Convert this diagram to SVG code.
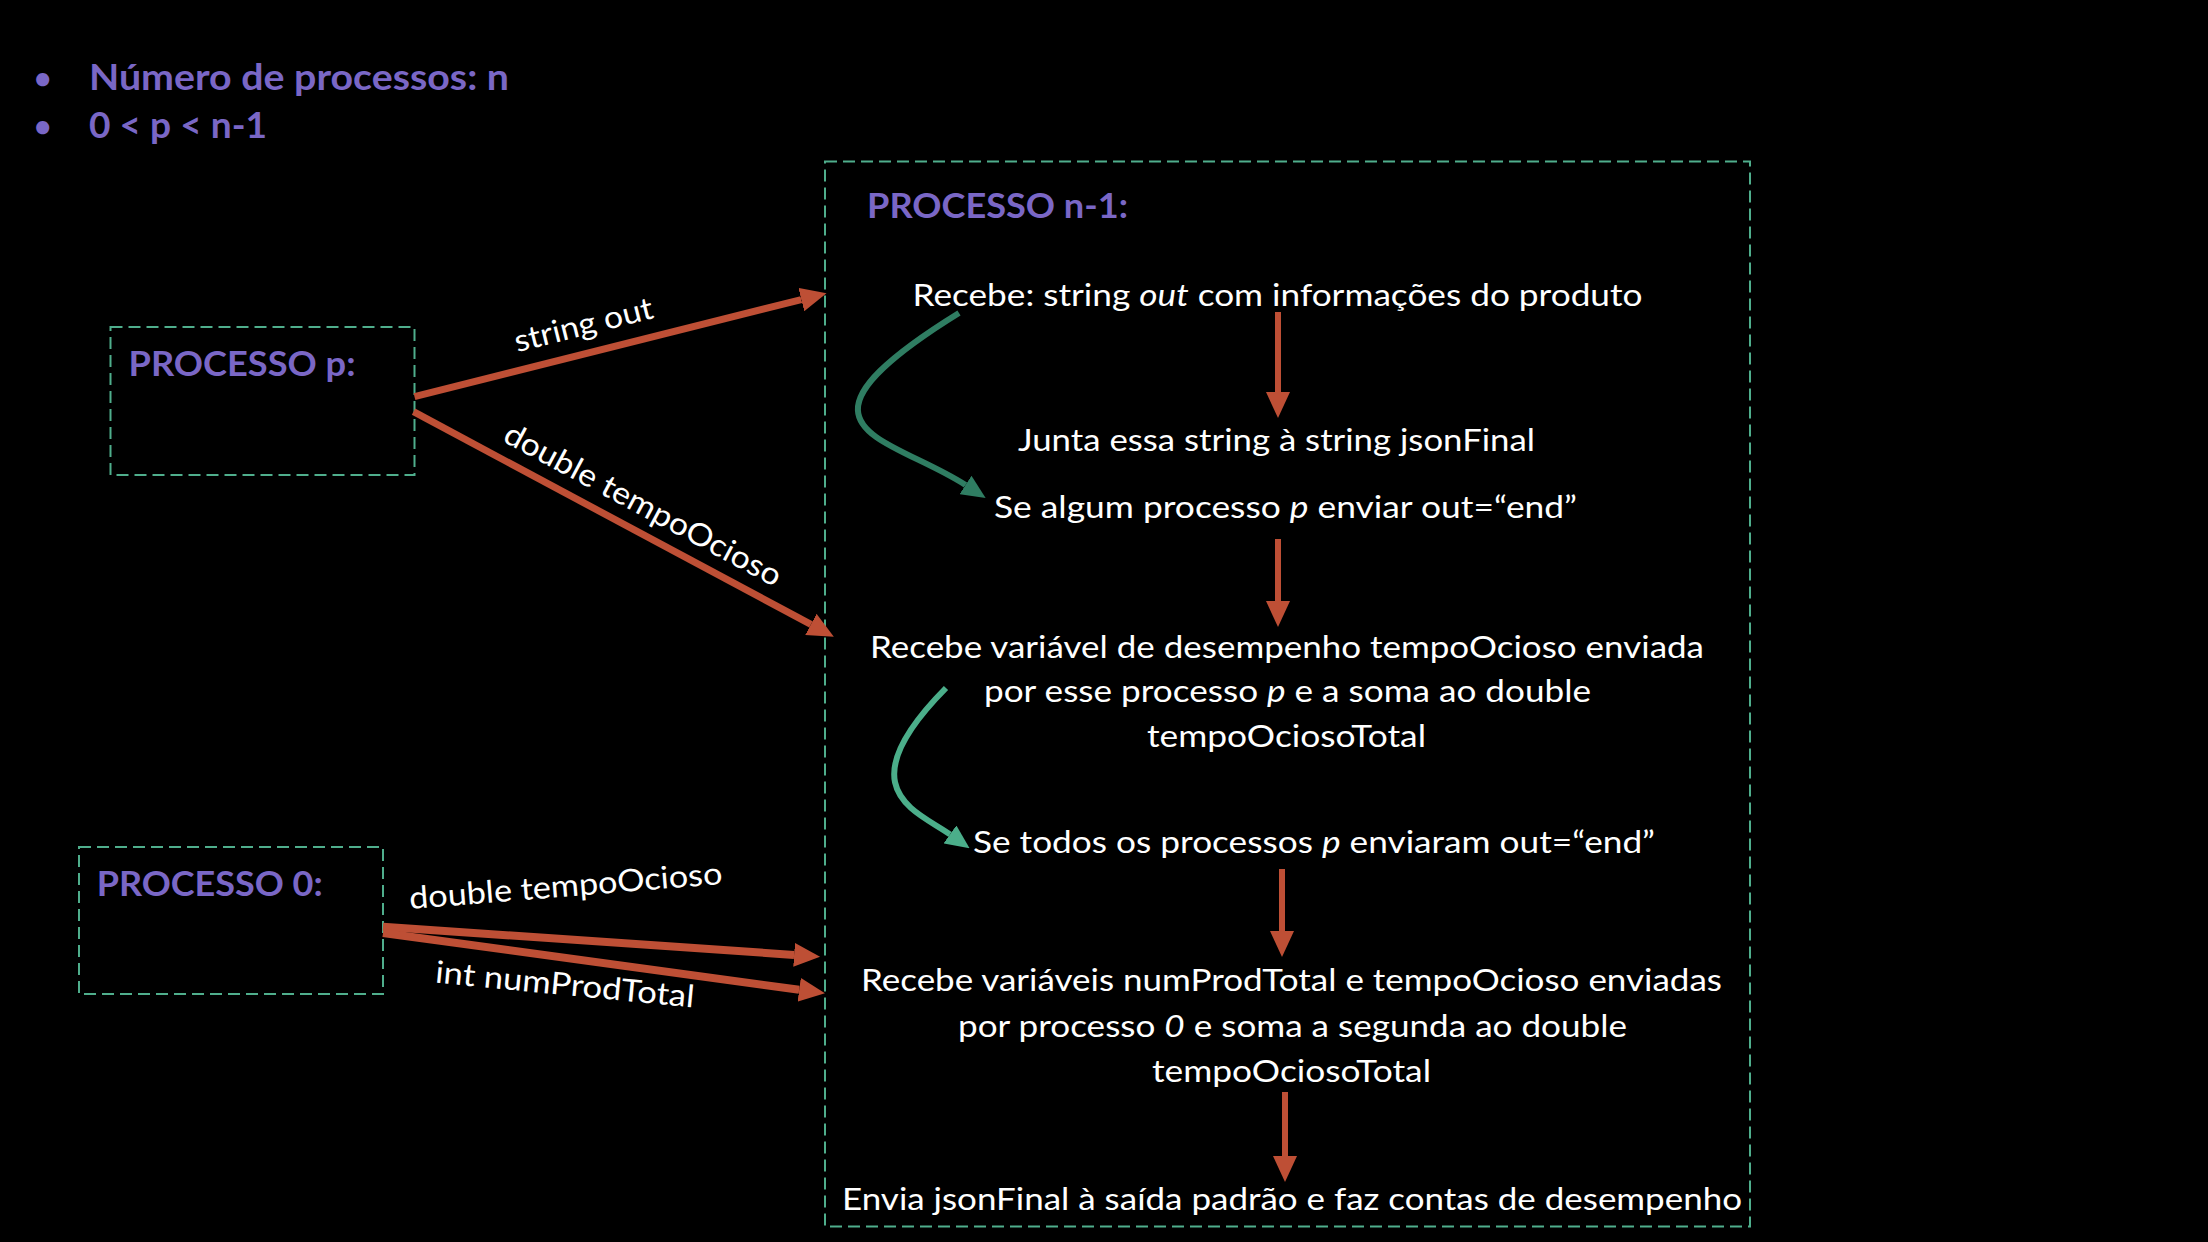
<svg xmlns="http://www.w3.org/2000/svg" width="2208" height="1242" viewBox="0 0 2208 1242">
<style>
.bg{fill:#000}
.box{fill:none;stroke:#4FAE8C;stroke-width:2;stroke-dasharray:12 6}
.head{font-family:Lato,"Open Sans",sans-serif;font-weight:bold;fill:#7A67C6}
.body{font-family:Lato,"Open Sans",sans-serif;font-size:31px;fill:#fff}
.lbl{font-family:Lato,"Open Sans",sans-serif;font-size:31px;fill:#fff;text-anchor:middle}
.red{fill:none;stroke:#BE4F35}
.g1{fill:none;stroke:#2F7D62;stroke-width:6}
.g2{fill:none;stroke:#4BAE8A;stroke-width:6}
</style>
<defs>
<marker id="ar" markerUnits="userSpaceOnUse" markerWidth="26" markerHeight="24" refX="0" refY="12" orient="auto" viewBox="0 0 26 24">
<path d="M0,0 L26,12 L0,24 z" fill="#BE4F35"/>
</marker>
<marker id="ag1" markerUnits="userSpaceOnUse" markerWidth="24" markerHeight="22" refX="0" refY="11" orient="auto" viewBox="0 0 24 22">
<path d="M0,0 L24,11 L0,22 z" fill="#2F7D62"/>
</marker>
<marker id="ag2" markerUnits="userSpaceOnUse" markerWidth="24" markerHeight="22" refX="0" refY="11" orient="auto" viewBox="0 0 24 22">
<path d="M0,0 L24,11 L0,22 z" fill="#4BAE8A"/>
</marker>
</defs>
<rect class="bg" x="0" y="0" width="2208" height="1242"/>

<g id="legend">
<text class="head" x="34" y="89" font-size="30">•</text>
<text class="head" x="89" y="90" font-size="37" textLength="420" lengthAdjust="spacingAndGlyphs">Número de processos: n</text>
<text class="head" x="34" y="137" font-size="30">•</text>
<text class="head" x="89" y="138" font-size="37" textLength="178" lengthAdjust="spacingAndGlyphs">0 &lt; p &lt; n-1</text>
</g>

<g id="node-p">
<rect class="box" x="110.5" y="327" width="304" height="148"/>
<text class="head" x="128.5" y="376" font-size="35" textLength="227" lengthAdjust="spacingAndGlyphs">PROCESSO p:</text>
</g>

<g id="node-0">
<rect class="box" x="79" y="847" width="304" height="147"/>
<text class="head" x="96.7" y="896" font-size="35" textLength="226" lengthAdjust="spacingAndGlyphs">PROCESSO 0:</text>
</g>

<g id="node-n1">
<rect class="box" x="825" y="161.5" width="925" height="1065"/>
<text class="head" x="867" y="218" font-size="35" textLength="261" lengthAdjust="spacingAndGlyphs">PROCESSO n-1:</text>
</g>

<g id="step-recebe-out">
<text class="body" x="912.5" y="306" textLength="730" lengthAdjust="spacingAndGlyphs">Recebe: string <tspan font-style="italic">out</tspan> com informações do produto</text>
</g>
<g id="step-junta">
<text class="body" x="1018" y="451" textLength="517" lengthAdjust="spacingAndGlyphs">Junta essa string à string jsonFinal</text>
</g>
<g id="step-se-algum">
<text class="body" x="994" y="518" textLength="583" lengthAdjust="spacingAndGlyphs">Se algum processo <tspan font-style="italic">p</tspan> enviar out=“end”</text>
</g>
<g id="step-recebe-tempo">
<text class="body" x="870" y="658" textLength="834" lengthAdjust="spacingAndGlyphs">Recebe variável de desempenho tempoOcioso enviada</text>
<text class="body" x="984" y="702" textLength="607" lengthAdjust="spacingAndGlyphs">por esse processo <tspan font-style="italic">p</tspan> e a soma ao double</text>
<text class="body" x="1147" y="747" textLength="279" lengthAdjust="spacingAndGlyphs">tempoOciosoTotal</text>
</g>
<g id="step-se-todos">
<text class="body" x="973" y="853" textLength="682" lengthAdjust="spacingAndGlyphs">Se todos os processos <tspan font-style="italic">p</tspan> enviaram out=“end”</text>
</g>
<g id="step-recebe-0">
<text class="body" x="861" y="991" textLength="861" lengthAdjust="spacingAndGlyphs">Recebe variáveis numProdTotal e tempoOcioso enviadas</text>
<text class="body" x="958" y="1037" textLength="669" lengthAdjust="spacingAndGlyphs">por processo <tspan font-style="italic">0</tspan> e soma a segunda ao double</text>
<text class="body" x="1152" y="1082" textLength="279" lengthAdjust="spacingAndGlyphs">tempoOciosoTotal</text>
</g>
<g id="step-envia">
<text class="body" x="842" y="1210" textLength="900" lengthAdjust="spacingAndGlyphs">Envia jsonFinal à saída padrão e faz contas de desempenho</text>
</g>

<g id="connectors">
<line class="red" stroke-width="6" x1="1278" y1="312" x2="1278" y2="392" marker-end="url(#ar)"/>
<line class="red" stroke-width="6" x1="1278" y1="539" x2="1278" y2="601" marker-end="url(#ar)"/>
<line class="red" stroke-width="6" x1="1282" y1="869" x2="1282" y2="931" marker-end="url(#ar)"/>
<line class="red" stroke-width="6" x1="1285" y1="1092" x2="1285" y2="1156" marker-end="url(#ar)"/>
<line class="red" stroke-width="7" x1="414.5" y1="396.7" x2="801.3" y2="299.6" marker-end="url(#ar)"/>
<line class="red" stroke-width="7" x1="413.5" y1="411.7" x2="810.9" y2="624.4" marker-end="url(#ar)"/>
<line class="red" stroke-width="8" x1="383" y1="926.7" x2="794.1" y2="954.9" marker-end="url(#ar)"/>
<line class="red" stroke-width="8" x1="383" y1="933" x2="799.2" y2="989.8" marker-end="url(#ar)"/>
<path class="g1" d="M959,313 C770,430 890,436 965.5,485" marker-end="url(#ag1)"/>
<path class="g2" d="M946,688 C845,790 917,811 950,834.4" marker-end="url(#ag2)"/>
<text class="lbl" x="586" y="335" transform="rotate(-14.1 586 335)" textLength="142" lengthAdjust="spacingAndGlyphs">string out</text>
<text class="lbl" x="638" y="514" transform="rotate(28.2 638 514)" textLength="310" lengthAdjust="spacingAndGlyphs">double tempoOcioso</text>
<text class="lbl" x="566.5" y="896.5" transform="rotate(-4.6 566.5 896.5)" textLength="314" lengthAdjust="spacingAndGlyphs">double tempoOcioso</text>
<text class="lbl" x="564" y="995" transform="rotate(5.5 564 995)" textLength="260" lengthAdjust="spacingAndGlyphs">int numProdTotal</text>
</g>
</svg>
